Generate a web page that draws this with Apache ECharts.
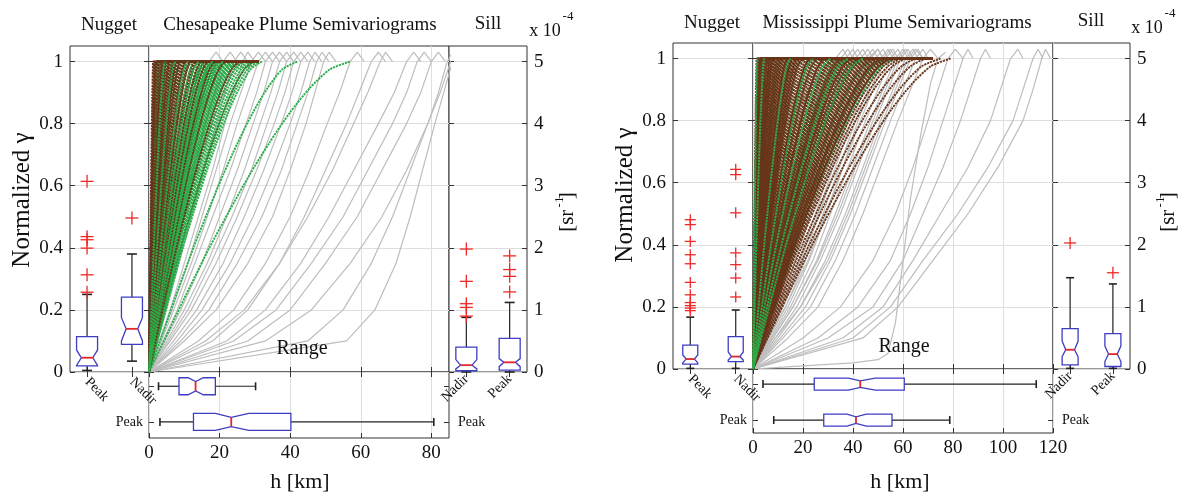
<!DOCTYPE html>
<html><head><meta charset="utf-8">
<script src="https://cdn.jsdelivr.net/npm/echarts@6/dist/echarts.min.js"></script>
<style>html,body{margin:0;padding:0;background:#fff}#c{width:1182px;height:492px}</style>
</head><body><div id="c"></div><script>
// ================= DATA =================
const gammaTicks = [0, 0.2, 0.4, 0.6, 0.8, 1];
const sillTicks = [0, 1, 2, 3, 4, 5];
const chesRangeTicks = [0, 20, 40, 60, 80];
const missRangeTicks = [0, 20, 40, 60, 80, 100, 120];

// gray experimental semivariograms: h [km] at which each curve reaches these gamma levels
const gammaLevels = [0, 0.1, 0.2, 0.35, 0.5, 0.65, 0.8, 0.9, 1.0, 1.03, 1.0];
const chesGrayCurves = [
 [0,1.5,3,5.5,8,10.5,13,15,17,19,21],[0,2,4,7,10,13,16,18.5,21,23,25],[0,2.5,5,8.5,12,15.5,19,21.5,24,26,28],
 [0,3,6,10,14,18,21.5,24,26.5,28,30],[0,3,6.5,11,15,19,23,26,29,31,33],[0,3.5,7,12,16.5,21,25,28,31,33,35],
 [0,4,8,13,18,23,27.5,30.5,33,35,37],[0,4.5,9,15,20,25,29.5,32.5,35,37,39],[0,5,10,16.5,22,27,31.5,34.5,37,39,41],
 [0,5.5,11,17.5,23.5,29,33.5,36.5,39,41,43],[0,6,12,19,25,30.5,35.5,38.5,41,43,45],[0,7,13.5,21,27,32.5,37.5,40.5,43,45,47],
 [0,8,15,23,29.5,35,40,43,45.5,47,49],[0,9,17,25,32,37.5,42,45,47.5,49,51],[0,10,19,28,35,40,44.5,47,49.5,51,53],
 [0,14,24,33,40,45.5,50.5,54,57,59,61],[0,18,28,37,44,50,56,59.5,63,65,67],[0,16,27,37,45,52,58,62,65.5,67,69],
 [0,22,33,43,51,58,65,69.5,73,75,77],[0,24,36,46,55,62,69,73,76,78,80],[0,28,40,50,59,66,73,77,80,82,84],
 [0,33,46,57,66,73,79,82,84.5,86,88],[0,45,55,63,69,74,79,82.5,85.5,87,89],[0,56,64,70,74,77.5,81,83.5,86,88,90]
];
const missGrayCurves = [
 [0,2,4,8,12,17,23,28,33,36,38],[0,2.5,5,9.5,14,19,25,30,35,38,40],[0,3,6,11,16,21.5,27.5,32.5,37,40,42],
 [0,3.5,7,12.5,18,23.5,29.5,34.5,39,42,44],[0,4,8,14,20,25.5,31.5,36.5,41,44,46],[0,4.5,9,15.5,21.5,27.5,33.5,38.5,43,46,48],
 [0,5,10,17,23,29,35.5,40.5,45,48,50],[0,5.5,11,18.5,25,31,37.5,42.5,47,50,52],[0,6,12,20,26.5,33,39.5,44.5,49,52,54],
 [0,6.5,13,21,28,34.5,41,46,51,54,56],[0,7,14,22.5,29.5,36,43,48,53,56,58],[0,7.5,15,24,31,38,45,50,55,58,60],
 [0,8,16,25.5,33,40,47,52,57,60,62],[0,9,17.5,27,35,42,49,54,59,62,64],[0,10,19,29,37,44,51,56,61,64,66],
 [0,11,21,31,39,46,53,58,63,66,68],[0,12,23,33,41,48,55,60,65,68,70],[0,5,11,19,26,32,38,42,46,50,52],
 [0,6,13,22,29,36,42,47,52,55,57],[0,8,16,26,34,41,48,53,58,61,63],[0,9,19,30,38,45,52,57,62,65,68],
 [0,14,26,36,44,51,58,63,68,71,74],[0,20,35,48,57,64,70,74,78,81,84],[0,26,42,55,63,70,76,80,84,86,88],
 [0,30,48,60,68,76,83,87,91,93,95],[0,36,52,64,75,86,95,99,103,106,108],[0,40,55,68,82,94,104,108,112,114,116],
 [0,44,58,72,86,98,108,112,115.5,117,119]
];
const missOddCurve = [[0,0],[20,0.01],[40,0.02],[50,0.03],[54,0.05],[57,0.15],[60,0.35],[63,0.55],[67,0.75],[71,0.92],[74,1.0],[77,1.02]];

// fitted model curves: normalized shape (h/range -> gamma) and the range of each fitted curve [km]
const modelShapeT = [0, 0.1, 0.2, 0.3, 0.4, 0.5, 0.6, 0.7, 0.8, 0.9, 1];
const modelShapeG = [0, 0.135, 0.27, 0.4, 0.52, 0.635, 0.74, 0.835, 0.915, 0.975, 1];
const chesBrownFlatEnd = 31, chesGreenFlatEnd = 0;
const missBrownFlatEnd = 72, missGreenFlatEnd = 0;
// Chesapeake drawing order: brown, green, brown (over), green (over)
const chesBrownRanges = [1.2,1.5,1.8,2.1,2.4,2.7,3.0,3.3,3.6,3.9,4.2,4.5,4.8,5.1,5.5,5.9,6.3,6.7,7.1,7.5,8,8.5,9,9.5,10,10.5,11,11.5,12,13,14,15,16,17,18,19,20,22,24,27,30];
const chesGreenRanges = [3,5,7,9,10.5,12,13,14,15,15.5,16,16.5,17,17.5,18,18.5,19,19.5,20,20.5,21,21.5,22,22.5,23,23.5,24,24.5,25,25.5,26,27,28,29,30,31,32,42,57];
const chesBrownOverRanges = [2,3,4,5,6,7,8,9,10.5,12,13.5,15,17,19,22,26];
const chesGreenOverRanges = [4.5,7.5,11,14,18,21];
// Mississippi drawing order: green, brown, brown (over), green (over)
const missBrownRanges = [1.5,2,2.5,3,3.5,4,4.5,5,5.5,6,6.5,7,7.5,8,8.5,9,9.5,10,10.5,11,11.5,12,12.5,13,13.5,14,14.5,15,15.5,16,16.5,17,17.5,18,18.5,19,19.5,20,21,22,23,24,25,26,27,28,29,30,31,32,33,34,35,36,37,38,39,40,41,42,43,44,45,46,47,48,49,50,51,52,53,54,55,56,58,60,62,66,70,75,79];
const missGreenRanges = [2,3,4,5.5,8,11,14,17,20,23,26,29,31,33,35,37,39,42,45,49,53,57];
const missBrownOverRanges = [2,3,4,5,6,7,8,9,10,12,14,16,18,20,23,26,29,32,36,40,44,48,52,56];
const missGreenOverRanges = [1.8,4.5,15,24,31,38,44];

// box plots: [whiskerLow, q1, notchLow, median, notchHigh, q3, whiskerHigh]
const chesNuggetCats = ['Peak', 'Nadir'];
const chesNuggetPeak = [0.005,0.02,0.021,0.046,0.071,0.114,0.25];
const chesNuggetNadir = [0.035,0.089,0.10,0.139,0.175,0.241,0.38];
const chesNuggetPeakOut = [0.257,0.313,0.399,0.426,0.436,0.614];
const chesNuggetNadirOut = [0.496];
const chesSillCats = ['Nadir', 'Peak'];
const chesSillNadir = [0,0.02,0.05,0.11,0.2,0.40,0.88];
const chesSillPeak = [0,0.03,0.086,0.156,0.216,0.54,1.12];
const chesSillNadirOut = [0.90,1.04,1.10,1.46,1.98];
const chesSillPeakOut = [1.29,1.54,1.65,1.87];
const chesRangeNadir = [2.7,8.5,11.1,13.2,15.4,18.8,30.2];
const chesRangePeak = [3.1,12.6,18.8,23.3,28.3,40.2,80.7];

const missNuggetCats = ['Peak', 'Nadir'];
const missNuggetPeak = [0.002,0.016,0.02,0.032,0.045,0.077,0.167];
const missNuggetNadir = [0.002,0.024,0.029,0.040,0.055,0.104,0.19];
const missNuggetPeakOut = [0.188,0.196,0.204,0.214,0.239,0.279,0.339,0.368,0.411,0.465,0.481];
const missNuggetNadirOut = [0.232,0.293,0.336,0.374,0.503,0.626,0.643];
const missSillCats = ['Nadir', 'Peak'];
const missSillNadir = [0.01,0.065,0.2,0.31,0.45,0.65,1.47];
const missSillPeak = [0.01,0.04,0.12,0.24,0.37,0.57,1.37];
const missSillNadirOut = [2.03];
const missSillPeakOut = [1.55];
const missRangeNadir = [4.0,24.5,38.2,42.9,48.9,60.5,113.3];
const missRangePeak = [8.3,28.3,37.6,41.2,45.3,55.6,78.7];

// ================= CHART =================
const FONT = '"Liberation Serif","DejaVu Serif","Times New Roman",serif';
const GRAY = '#bdbdbd', BROWN = '#68351a', GREEN = '#2aae4b';
const chart = echarts.init(document.getElementById('c'), null, {renderer: 'canvas'});

const grids = [
  {left:70, top:46, width:79, height:326},   // 0 ches nugget
  {left:149, top:46, width:300, height:326}, // 1 ches main
  {left:449, top:46, width:78, height:326},  // 2 ches sill
  {left:149, top:372, width:300, height:66}, // 3 ches range
  {left:673, top:43, width:80, height:326},  // 4 miss nugget
  {left:753, top:43, width:300, height:326}, // 5 miss main
  {left:1053, top:43, width:77, height:326}, // 6 miss sill
  {left:753, top:369, width:300, height:64}  // 7 miss range
].map(g => Object.assign({show:true, borderColor:'#333', borderWidth:1, backgroundColor:'#fff', containLabel:false}, g));

const tickStyle = {show:true, inside:true, length:5, lineStyle:{color:'#333', width:1}};
const splitStyle = {show:true, lineStyle:{color:'#dedede', width:1}};
const labelBase = {fontFamily:FONT, color:'#111'};
const fmtNum = v => String(Math.round(v*10)/10);

const xAxes = [], yAxes = [];
function addX(o){ xAxes.push(Object.assign({type:'value', axisLine:{show:false}, splitLine:{show:false}}, o)); return xAxes.length-1; }
function addY(o){ yAxes.push(Object.assign({type:'value', axisLine:{show:false}, splitLine:{show:false}}, o)); return yAxes.length-1; }

function catX(grid, min, max, cats, rotate, margin){
  const i = addX({gridIndex:grid, min, max, position:'bottom',
    axisTick:Object.assign({}, tickStyle, {customValues:[1,2]}),
    axisLabel:Object.assign({}, labelBase, {customValues:[1,2], rotate, fontSize:14, margin, formatter:v=>cats[Math.round(v)-1]})});
  addX({gridIndex:grid, min, max, position:'top', axisTick:Object.assign({}, tickStyle, {customValues:[1,2]}), axisLabel:{show:false}});
  return i;
}
function mainX(grid, max, ticks){
  const i = addX({gridIndex:grid, min:0, max, position:'bottom', splitLine:splitStyle,
    axisTick:Object.assign({}, tickStyle, {customValues:ticks}), axisLabel:{show:false}});
  addX({gridIndex:grid, min:0, max, position:'top', axisTick:Object.assign({}, tickStyle, {customValues:ticks}), axisLabel:{show:false}});
  return i;
}
function rangeX(grid, max, ticks){
  return addX({gridIndex:grid, min:0, max, position:'bottom', splitLine:splitStyle,
    axisTick:Object.assign({}, tickStyle, {customValues:ticks}),
    axisLabel:Object.assign({}, labelBase, {customValues:ticks, fontSize:19, margin:6, formatter:fmtNum})});
}
function gammaY(grid, labels){
  const i = addY({gridIndex:grid, min:0, max:1.05, position:'left', splitLine:splitStyle,
    axisTick:Object.assign({}, tickStyle, {customValues:gammaTicks}),
    axisLabel: labels ? Object.assign({}, labelBase, {customValues:gammaTicks, fontSize:19, margin:7, formatter:fmtNum}) : {show:false}});
  addY({gridIndex:grid, min:0, max:1.05, position:'right', axisTick:Object.assign({}, tickStyle, {customValues:gammaTicks}), axisLabel:{show:false}});
  return i;
}
function sillY(grid){
  const i = addY({gridIndex:grid, min:0, max:5.25, position:'left', splitLine:splitStyle,
    axisTick:Object.assign({}, tickStyle, {customValues:sillTicks}), axisLabel:{show:false}});
  addY({gridIndex:grid, min:0, max:5.25, position:'right', axisTick:Object.assign({}, tickStyle, {customValues:sillTicks}),
    axisLabel:Object.assign({}, labelBase, {customValues:sillTicks, fontSize:19, margin:7, formatter:fmtNum})});
  return i;
}
function rangeY(grid, min, max){
  const lab = Object.assign({}, labelBase, {customValues:[2], fontSize:14, margin:6, formatter:()=> 'Peak'});
  const i = addY({gridIndex:grid, min, max, inverse:true, position:'left',
    axisTick:Object.assign({}, tickStyle, {customValues:[1,2]}), axisLabel:lab});
  addY({gridIndex:grid, min, max, inverse:true, position:'right',
    axisTick:Object.assign({}, tickStyle, {customValues:[1,2]}), axisLabel:Object.assign({}, lab, {margin:9})});
  return i;
}

const ax = {};
ax.cnx = catX(0, 0.62, 2.38, chesNuggetCats, -45, 8); ax.cny = gammaY(0, true);
ax.cmx = mainX(1, 85, chesRangeTicks);                ax.cmy = gammaY(1, false);
ax.csx = catX(2, 0.6, 2.4, chesSillCats, 45, 5);       ax.csy = sillY(2);
ax.crx = rangeX(3, 85, chesRangeTicks);                ax.cry = rangeY(3, 0.6, 2.45);
ax.mnx = catX(4, 0.62, 2.38, missNuggetCats, -45, 8);  ax.mny = gammaY(4, true);
ax.mmx = mainX(5, 120, missRangeTicks);                ax.mmy = gammaY(5, false);
ax.msx = catX(6, 0.6, 2.4, missSillCats, 45, 5);       ax.msy = sillY(6);
ax.mrx = rangeX(7, 120, missRangeTicks);               ax.mry = rangeY(7, 0.58, 2.36);

const series = [];
function grayLines(curves, xi, yi){
  curves.forEach(c => series.push({type:'line', xAxisIndex:xi, yAxisIndex:yi, silent:true, animation:false,
    showSymbol:false, symbol:'none', data:c.map((h,k)=>[h, gammaLevels[k]]),
    lineStyle:{color:GRAY, width:1.2}, z:2}));
}
function modelData(a, flatEnd){
  const pts = modelShapeT.map((t,k)=>[t*a, modelShapeG[k]]);
  const end = Math.max(a, flatEnd);
  if (end > a) pts.push([end, 1]);
  return pts;
}
function modelLines(ranges, flatEnd, color, xi, yi){
  ranges.forEach((a, k) => series.push({type:'line', xAxisIndex:xi, yAxisIndex:yi, silent:true, animation:false,
    showSymbol:false, symbol:'none', smooth:0.25, data:modelData(a, flatEnd),
    lineStyle:{color, width:1.9, type:[2.2,0.9], dashOffset:(k*0.77)%3.1}, z:3}));
}
function boxSeries(xi, yi, rows, horizontal, half, capHalf){
  series.push({type:'custom', xAxisIndex:xi, yAxisIndex:yi, silent:true, animation:false, z:10, clip:false,
    data:rows,
    renderItem(params, api){
      const pos = api.value(0);
      const wl=api.value(1), q1=api.value(2), nl=api.value(3), med=api.value(4), nh=api.value(5), q3=api.value(6), wh=api.value(7);
      const P = (val, off) => { if (horizontal){ const p = api.coord([val,pos]); return [p[0], p[1]+off]; }
                                const p = api.coord([pos,val]); return [p[0]+off, p[1]]; };
      const r = 0.55*half;
      const poly = [P(q1,-half),P(nl,-half),P(med,-r),P(nh,-half),P(q3,-half),P(q3,half),P(nh,half),P(med,r),P(nl,half),P(q1,half)];
      const line = (a,b,color,w)=>({type:'line', shape:{x1:a[0],y1:a[1],x2:b[0],y2:b[1]}, style:{stroke:color, lineWidth:w}});
      return {type:'group', children:[
        line(P(q3,0),P(wh,0),'#222',1.2), line(P(q1,0),P(wl,0),'#222',1.2),
        line(P(wh,-capHalf),P(wh,capHalf),'#222',1.6), line(P(wl,-capHalf),P(wl,capHalf),'#222',1.6),
        {type:'polygon', shape:{points:poly}, style:{fill:'#fff', stroke:'#3d3dc4', lineWidth:1.3}},
        line(P(med,-r),P(med,r),'#e3262b',1.8)
      ]};
    }});
}
function outlierSeries(xi, yi, rows, s){
  series.push({type:'custom', xAxisIndex:xi, yAxisIndex:yi, silent:true, animation:false, z:11, clip:false,
    data:rows,
    renderItem(params, api){
      const p = api.coord([api.value(0), api.value(1)]);
      const st = {stroke:'#f02828', lineWidth:1.3};
      return {type:'group', children:[
        {type:'line', shape:{x1:p[0]-s, y1:p[1], x2:p[0]+s, y2:p[1]}, style:st},
        {type:'line', shape:{x1:p[0], y1:p[1]-s, x2:p[0], y2:p[1]+s}, style:st}]};
    }});
}

// Chesapeake
grayLines(chesGrayCurves, ax.cmx, ax.cmy);
modelLines(chesBrownRanges, chesBrownFlatEnd, BROWN, ax.cmx, ax.cmy);
modelLines(chesGreenRanges, chesGreenFlatEnd, GREEN, ax.cmx, ax.cmy);
modelLines(chesBrownOverRanges, chesBrownFlatEnd, BROWN, ax.cmx, ax.cmy);
modelLines(chesGreenOverRanges, chesGreenFlatEnd, GREEN, ax.cmx, ax.cmy);
boxSeries(ax.cnx, ax.cny, [[1, ...chesNuggetPeak], [2, ...chesNuggetNadir]], false, 10.5, 5);
outlierSeries(ax.cnx, ax.cny, chesNuggetPeakOut.map(v=>[1,v]).concat(chesNuggetNadirOut.map(v=>[2,v])), 6.5);
boxSeries(ax.csx, ax.csy, [[1, ...chesSillNadir], [2, ...chesSillPeak]], false, 10.5, 5);
outlierSeries(ax.csx, ax.csy, chesSillNadirOut.map(v=>[1,v]).concat(chesSillPeakOut.map(v=>[2,v])), 6.5);
boxSeries(ax.crx, ax.cry, [[1, ...chesRangeNadir], [2, ...chesRangePeak]], true, 8.5, 4);

// Mississippi
grayLines(missGrayCurves, ax.mmx, ax.mmy);
series.push({type:'line', xAxisIndex:ax.mmx, yAxisIndex:ax.mmy, silent:true, animation:false, showSymbol:false, symbol:'none',
  data:missOddCurve, lineStyle:{color:GRAY, width:1.2}, z:2});
modelLines(missGreenRanges, missGreenFlatEnd, GREEN, ax.mmx, ax.mmy);
modelLines(missBrownRanges, missBrownFlatEnd, BROWN, ax.mmx, ax.mmy);
modelLines(missBrownOverRanges, missBrownFlatEnd, BROWN, ax.mmx, ax.mmy);
modelLines(missGreenOverRanges, missGreenFlatEnd, GREEN, ax.mmx, ax.mmy);
boxSeries(ax.mnx, ax.mny, [[1, ...missNuggetPeak], [2, ...missNuggetNadir]], false, 7.5, 4);
outlierSeries(ax.mnx, ax.mny, missNuggetPeakOut.map(v=>[1,v]).concat(missNuggetNadirOut.map(v=>[2,v])), 5.5);
boxSeries(ax.msx, ax.msy, [[1, ...missSillNadir], [2, ...missSillPeak]], false, 8, 4);
outlierSeries(ax.msx, ax.msy, missSillNadirOut.map(v=>[1,v]).concat(missSillPeakOut.map(v=>[2,v])), 6);
boxSeries(ax.mrx, ax.mry, [[1, ...missRangeNadir], [2, ...missRangePeak]], true, 6, 4);

const txt = (text, x, y, size, extra) => Object.assign({type:'text', x, y, silent:true, z:100,
  style:Object.assign({text, font:size+'px '+FONT, fill:'#111', textAlign:'center', textVerticalAlign:'middle'}, extra && extra.style)},
  extra ? {rotation: extra.rotation || 0} : {});
const graphic = [
  txt('Nugget', 109, 25, 19), txt('Chesapeake Plume Semivariograms', 300, 25, 19), txt('Sill', 488, 24, 19),
  txt('x 10', 545, 31, 18), txt('-4', 568, 17, 13),
  txt('Normalized γ', 22, 200, 25, {rotation:Math.PI/2}),
  txt('[sr  ]', 567, 212, 21, {rotation:Math.PI/2}), txt('-1', 560, 202, 13, {rotation:Math.PI/2}),
  txt('Range', 302, 349, 20), txt('h [km]', 300, 482, 22),
  txt('Nugget', 712, 23, 19), txt('Mississippi Plume Semivariograms', 897, 23, 19), txt('Sill', 1091, 21, 19),
  txt('x 10', 1147, 28, 18), txt('-4', 1170, 14, 13),
  txt('Normalized γ', 625, 195, 25, {rotation:Math.PI/2}),
  txt('[sr  ]', 1168, 212, 21, {rotation:Math.PI/2}), txt('-1', 1161, 202, 13, {rotation:Math.PI/2}),
  txt('Range', 904, 347, 20), txt('h [km]', 900, 482, 22)
];

chart.setOption({animation:false, backgroundColor:'#fff', grid:grids, xAxis:xAxes, yAxis:yAxes, series, graphic});
</script></body></html>
